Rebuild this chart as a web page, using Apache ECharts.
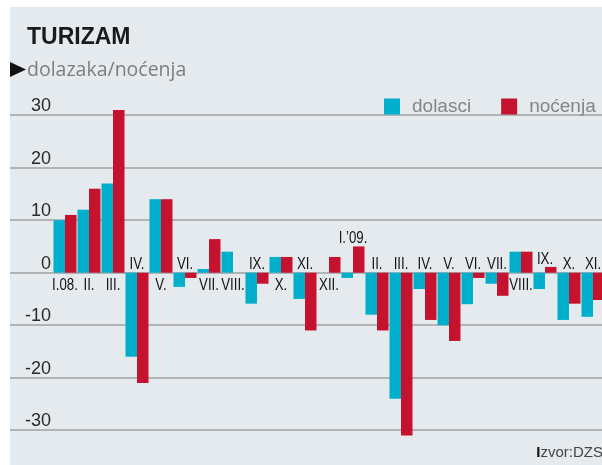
<!DOCTYPE html>
<html>
<head>
    <meta charset="utf-8">
    <title>Turizam</title>
    <script src="https://cdn.jsdelivr.net/npm/echarts@6/dist/echarts.min.js"></script>
    <style>
        html, body { margin: 0; padding: 0; background: #fff; }
        #chart { width: 602px; height: 465px; }
    </style>
</head>
<body>
<div id="chart"></div>
<script type="text/javascript">
    // mjeseci 2008-2009
    var months = ['I.08.', 'II.', 'III.', 'IV.', 'V.', 'VI.', 'VII.', 'VIII.', 'IX.', 'X.', 'XI.', 'XII.',
        'I.\u201909.', 'II.', 'III.', 'IV.', 'V.', 'VI.', 'VII.', 'VIII.', 'IX.', 'X.', 'XI.'];
    // promjena u %
    var dolasci = [10, 12, 17, -16, 14, -2.7, 0.7, 4, -5.9, 3, -5, 0,
        -1, -8, -24, -3.1, -10, -6, -2.1, 4, -3.1, -9, -8.4];
    var nocenja = [11, 16, 31, -21, 14, -1, 6.4, 0, -2.1, 3, -11, 3,
        5, -11, -31, -9, -13, -1, -4.4, 4, 1.1, -5.9, -5.2];
    var yMin = -40, yMax = 40, yStep = 10;

    var font = '"Liberation Sans", sans-serif';

    // fiksni ukrasi: pozadina, naslov, izvor
    var staticGraphics = [
        { type: 'rect', shape: { x: 0, y: 0, width: 10, height: 465 }, style: { fill: '#fff' } },
        { type: 'rect', shape: { x: 0, y: 0, width: 602, height: 7 }, style: { fill: '#fff' } },
        { type: 'text', left: 27, top: 26,
          style: { text: 'TURIZAM', fill: '#1a1a1a', font: 'bold 23px "Liberation Sans", sans-serif' } },
        { type: 'polygon', shape: { points: [[10, 62], [26, 69.5], [10, 77]] }, style: { fill: '#111' } },
        { type: 'text', left: 27, top: 60,
          style: { text: 'dolazaka/noćenja', fill: '#7d7d7d', font: '19.5px "Open Sans", sans-serif' } },
        { type: 'text', right: -1, top: 445,
          style: { rich: { b: { fill: '#111', fontSize: 15, fontWeight: 'bold', fontFamily: 'Liberation Sans' },
                           n: { fill: '#444', fontSize: 15, fontFamily: 'Liberation Sans' } },
                   text: '{b|I}{n|zvor:DZS}' } }
    ];

    var myChart = echarts.init(document.getElementById('chart'));
    myChart.setOption({
        backgroundColor: '#e4eaee',
        animation: false,
        legend: {
            data: ['dolasci', 'noćenja'],
            orient: 'horizontal',
            left: 384,
            top: 97,
            width: 260,
            padding: 0,
            itemWidth: 16,
            itemHeight: 16,
            itemGap: 30,
            icon: 'rect',
            textStyle: { color: '#858585', fontSize: 19, fontFamily: 'Liberation Sans', padding: [0, 0, 0, 7] }
        },
        grid: [
            { left: 53, top: 62.7, width: 552, height: 420, outerBoundsMode: 'none' },
            { left: 10, right: 0, top: 62.7, height: 420, outerBoundsMode: 'none' }
        ],
        xAxis: [
            { type: 'category', gridIndex: 0, data: months.map(function (m, i) { return i; }),
              axisLine: { show: false }, axisTick: { show: false }, axisLabel: { show: false } },
            { type: 'value', gridIndex: 1, show: false }
        ],
        yAxis: [
            { type: 'value', gridIndex: 0, min: yMin, max: yMax, interval: yStep,
              axisLine: { show: false }, axisTick: { show: false }, splitLine: { show: false },
              axisLabel: { showMinLabel: false, showMaxLabel: false, verticalAlign: 'bottom', margin: 2,
                  color: '#2a2a2a', fontSize: 18, fontFamily: font } },
            { type: 'value', gridIndex: 1, min: yMin, max: yMax, interval: yStep,
              axisLine: { show: false }, axisTick: { show: false }, axisLabel: { show: false },
              splitLine: { show: true, showMinLine: false, showMaxLine: false,
                  lineStyle: { color: '#b1b4b7', width: 2 } } }
        ],
        series: [
            { name: 'dolasci', type: 'bar', data: dolasci, barWidth: 11.5, barGap: '0%',
              itemStyle: { color: '#00afcc' } },
            { name: 'noćenja', type: 'bar', data: nocenja, barWidth: 11.5, barGap: '0%',
              itemStyle: { color: '#c5122f' } }
        ],
        graphic: staticGraphics
    });

    // oznake mjeseci (uski font): iznad nule ako ima pada, inace ispod
    var zeroY = myChart.convertToPixel({ gridIndex: 0 }, [0, 0])[1];
    var monthTexts = months.map(function (m, i) {
        var lo = Math.min(dolasci[i], nocenja[i]);
        var hi = Math.max(dolasci[i], nocenja[i]);
        var below = lo >= 0;
        var p = myChart.convertToPixel({ gridIndex: 0 }, [i, below ? 0 : Math.max(hi, 0)]);
        return {
            type: 'text', x: p[0], y: below ? zeroY + 4 : p[1] + 0.5, scaleX: 0.78, z: 10,
            style: { text: m, fill: '#141414', font: '17px "Liberation Sans", sans-serif',
                     textAlign: 'center', textVerticalAlign: below ? 'top' : 'bottom' }
        };
    });
    myChart.setOption({ graphic: staticGraphics.concat(monthTexts) });
</script>
</body>
</html>
